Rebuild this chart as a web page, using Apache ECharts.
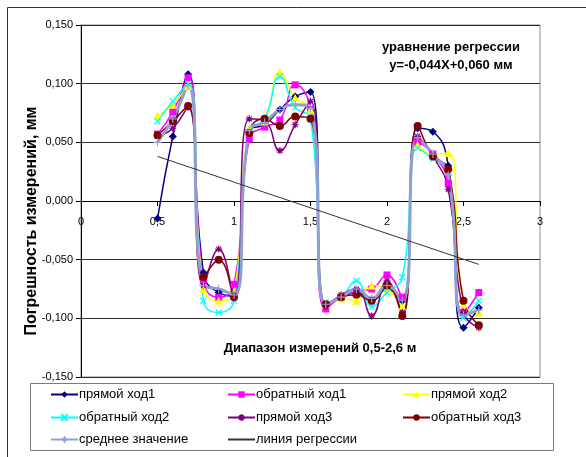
<!DOCTYPE html>
<html><head><meta charset="utf-8">
<script src="https://cdn.jsdelivr.net/npm/echarts@6/dist/echarts.min.js"></script>
<style>html,body{margin:0;padding:0;background:#fff}#c{width:586px;height:457px}</style>
</head><body><div id="c"></div>
<script>
var xs = [0.5,0.6,0.7,0.8,0.9,1.0,1.1,1.2,1.3,1.4,1.5,1.6,1.7,1.8,1.9,2.0,2.1,2.2,2.3,2.4,2.5,2.6];
var pryamoy1 = [-0.015,0.055,0.108,-0.061,-0.078,-0.081,0.060,0.065,0.078,0.089,0.093,-0.088,-0.082,-0.078,-0.085,-0.075,-0.085,0.062,0.059,0.030,-0.108,-0.091];
var obratny1 = [0.057,0.076,0.105,-0.068,-0.082,-0.071,0.053,0.063,0.069,0.099,0.078,-0.092,-0.082,-0.077,-0.075,-0.063,-0.082,0.050,0.040,0.015,-0.095,-0.078];
var pryamoy2 = [0.073,0.082,0.098,-0.075,-0.085,-0.078,0.062,0.068,0.110,0.088,0.078,-0.088,-0.083,-0.085,-0.072,-0.075,-0.090,0.048,0.040,0.041,-0.088,-0.095];
var obratny2 = [0.068,0.085,0.100,-0.085,-0.095,-0.085,0.058,0.070,0.106,0.080,0.070,-0.086,-0.082,-0.068,-0.090,-0.078,-0.065,0.045,0.036,0.025,-0.100,-0.085];
var pryamoy3 = [0.055,0.062,0.080,-0.072,-0.041,-0.080,0.070,0.068,0.043,0.065,0.085,-0.090,-0.080,-0.075,-0.098,-0.068,-0.095,0.055,0.038,0.010,-0.095,-0.108];
var obratny3 = [0.056,0.068,0.081,-0.065,-0.050,-0.082,0.058,0.070,0.064,0.072,0.070,-0.088,-0.082,-0.080,-0.085,-0.072,-0.098,0.064,0.038,0.027,-0.085,-0.106];
var srednee = [0.050,0.070,0.098,-0.072,-0.075,-0.080,0.060,0.067,0.078,0.082,0.079,-0.088,-0.082,-0.075,-0.083,-0.072,-0.085,0.054,0.040,0.022,-0.097,-0.093];
var regX = [0.5, 2.6];
var regY = [0.038, -0.054];
var names = ['прямой ход1','обратный ход1','прямой ход2','обратный ход2','прямой ход3','обратный ход3','среднее значение','линия регрессии'];
var yTicks = {min:-0.15, max:0.15, interval:0.05};
var xTicks = {min:0, max:3, interval:0.5};

function pairs(xa, ya){ return xa.map(function(x,i){ return [x, ya[i]]; }); }

var FONT = 'Liberation Sans, Arial, sans-serif';
var P_X = 'path://M0,0L10,10M10,0L0,10';
var P_AST = 'path://M5,0L5,10M0,5L10,5M1.5,1.5L8.5,8.5M8.5,1.5L1.5,8.5';
var P_PLUS = 'path://M5,0L5,10M0,5L10,5';

function ser(name, data, color, symbol, size, lw, stroke){
  return {
    name: name, type: 'line', data: data, smooth: 0.5,
    symbol: symbol, symbolSize: size, showSymbol: true,
    lineStyle: {color: color, width: lw},
    itemStyle: stroke ? {color: color, borderColor: color, borderWidth: 1.2} : {color: color, borderColor: color, borderWidth: 0},
    emphasis: {disabled: true}, animation: false, z: 3
  };
}

var series = [
  ser(names[0], pairs(xs, pryamoy1), '#000080', 'diamond', 8, 1.5, false),
  ser(names[1], pairs(xs, obratny1), '#FF00FF', 'rect', 7, 1.5, false),
  ser(names[2], pairs(xs, pryamoy2), '#FFFF00', 'triangle', 8, 1.5, false),
  ser(names[3], pairs(xs, obratny2), '#00FFFF', P_X, 6, 1.5, true),
  ser(names[4], pairs(xs, pryamoy3), '#800080', P_AST, 7, 1.5, true),
  ser(names[5], pairs(xs, obratny3), '#800000', 'circle', 8, 1.5, false),
  ser(names[6], pairs(xs, srednee), '#8FA0D0', P_PLUS, 8, 3, true),
  {
    name: names[7], type: 'line', data: pairs(regX, regY), smooth: false,
    symbol: 'none', lineStyle: {color: '#333333', width: 1}, itemStyle: {color: '#333333'},
    emphasis: {disabled: true}, animation: false, z: 4
  }
];

var legPos = [[50,388],[227,388],[402,388],[50,411],[227,411],[402,411],[50,433],[227,433]];
var legends = names.map(function(n, i){
  var item = (i === 7) ? {name: n, itemStyle: {opacity: 0}} : {name: n};
  return {
    data: [item], left: legPos[i][0], top: legPos[i][1], padding: 0,
    itemWidth: 27, itemHeight: 8, itemGap: 4, selectedMode: false,
    textStyle: {fontFamily: FONT, fontSize: 13, color: '#000', padding: [0,0,0,-4]}
  };
});

var chart = echarts.init(document.getElementById('c'), null, {renderer: 'canvas'});
chart.setOption({
  backgroundColor: '#fff',
  animation: false,
  grid: {left: 81, right: 46, top: 25, bottom: 80, show: true, borderColor: '#8c8c8c', borderWidth: 1, backgroundColor: 'transparent'},
  xAxis: {
    type: 'value', min: xTicks.min, max: xTicks.max, interval: xTicks.interval,
    position: 'bottom', offset: -176,
    axisLine: {onZero: false, lineStyle: {color: '#000', width: 1}},
    axisTick: {show: true, inside: false, length: 5, lineStyle: {color: '#000'}},
    axisLabel: {margin: 15, fontFamily: FONT, fontSize: 11, color: '#000',
      formatter: function(v){ return String(v).replace('.', ','); }},
    splitLine: {show: false}
  },
  yAxis: {
    type: 'value', min: yTicks.min, max: yTicks.max, interval: yTicks.interval,
    axisLine: {show: true, onZero: false, lineStyle: {color: '#000', width: 1}},
    axisTick: {show: true, inside: false, length: 5, lineStyle: {color: '#000'}},
    axisLabel: {margin: 8, fontFamily: FONT, fontSize: 11, color: '#000',
      formatter: function(v){ return v.toFixed(3).replace('.', ','); }},
    splitLine: {show: true, lineStyle: {color: '#2a2a2a', width: 1}}
  },
  legend: legends,
  graphic: [
    {type: 'line', shape: {x1: 7.5, y1: 7.5, x2: 586, y2: 7.5}, style: {stroke: '#333', lineWidth: 1}, silent: true},
    {type: 'line', shape: {x1: 7.5, y1: 7.5, x2: 7.5, y2: 457}, style: {stroke: '#333', lineWidth: 1}, silent: true},
    {type: 'rect', shape: {x: 30.5, y: 383.5, width: 523, height: 67}, style: {fill: 'none', stroke: '#7a7a7a', lineWidth: 1}, silent: true, z: -1},
    {type: 'text', x: 32, y: 221, rotation: Math.PI/2,
      style: {text: 'Погрешность измерений, мм', fontFamily: FONT, fontSize: 16, fontWeight: 'bold', fill: '#000', align: 'center', verticalAlign: 'middle'}, silent: true},
    {type: 'text', x: 451, y: 47,
      style: {text: 'уравнение регрессии', fontFamily: FONT, fontSize: 13, fontWeight: 'bold', fill: '#000', align: 'center', verticalAlign: 'middle'}, silent: true},
    {type: 'text', x: 451, y: 65,
      style: {text: 'y=-0,044X+0,060 мм', fontFamily: FONT, fontSize: 13, fontWeight: 'bold', fill: '#000', align: 'center', verticalAlign: 'middle'}, silent: true},
    {type: 'text', x: 320, y: 348,
      style: {text: 'Диапазон измерений 0,5-2,6 м', fontFamily: FONT, fontSize: 13, fontWeight: 'bold', fill: '#000', align: 'center', verticalAlign: 'middle'}, silent: true}
  ],
  series: series
});
</script></body></html>
